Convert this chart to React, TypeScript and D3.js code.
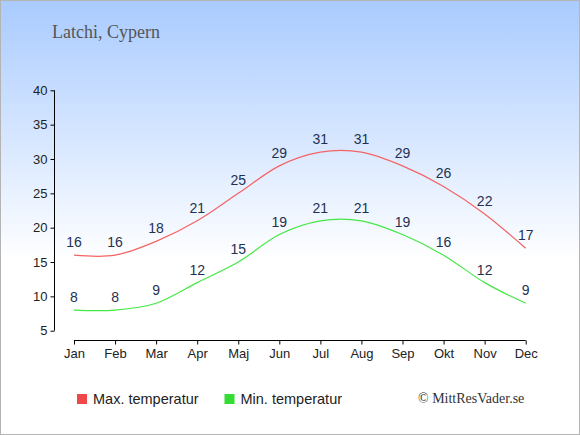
import { useEffect, useRef } from 'react'
import * as d3 from 'd3'

const months = ['Jan', 'Feb', 'Mar', 'Apr', 'Maj', 'Jun', 'Jul', 'Aug', 'Sep', 'Okt', 'Nov', 'Dec']
const maxTemps = [16, 16, 18, 21, 25, 29, 31, 31, 29, 26, 22, 17]
const minTemps = [8, 8, 9, 12, 15, 19, 21, 21, 19, 16, 12, 9]
const yTicks = [5, 10, 15, 20, 25, 30, 35, 40]

const width = 580
const height = 435

export default function App() {
  const svgRef = useRef<SVGSVGElement>(null)

  useEffect(() => {
    if (!svgRef.current) return
    const svg = d3.select(svgRef.current)
    svg.selectAll('*').remove()

    const defs = svg.append('defs')
    const grad = defs.append('linearGradient')
      .attr('id', 'bg')
      .attr('x1', 0).attr('y1', 0).attr('x2', 0).attr('y2', 1)
    grad.append('stop').attr('offset', '0%').attr('stop-color', '#a9cbff')
    grad.append('stop').attr('offset', '60%').attr('stop-color', '#ffffff')
    grad.append('stop').attr('offset', '100%').attr('stop-color', '#ffffff')

    svg.append('rect')
      .attr('x', 0.5).attr('y', 0.5)
      .attr('width', width - 1).attr('height', height - 1)
      .attr('fill', 'url(#bg)')
      .attr('stroke', '#b4b4b4')

    svg.append('text')
      .attr('x', 52)
      .attr('y', 38)
      .style('font-family', '"Liberation Serif", serif')
      .style('font-size', '18px')
      .style('fill', '#555')
      .text('Latchi, Cypern')

    const x = d3.scalePoint<string>()
      .domain(months)
      .range([74, 525.7])

    const y = d3.scaleLinear()
      .domain([5, 40])
      .range([330.7, 90.3])

    const axisX = 54.5
    const baseY = 340.5

    // y axis
    const yAxis = svg.append('g')
      .attr('transform', `translate(${axisX},0)`)
      .call(d3.axisLeft(y).tickValues(yTicks).tickSize(4).tickPadding(3).tickFormat(d3.format('d')))
    yAxis.select('.domain').attr('d', `M0,${y(40)}V${y(5)}`).attr('stroke', '#000')
    yAxis.selectAll('text')
      .style('font-family', 'Arial, "Liberation Sans", sans-serif')
      .style('font-size', '13px')
      .style('fill', '#222')

    // x axis
    const xAxis = svg.append('g')
      .attr('transform', `translate(0,${baseY})`)
      .call(d3.axisBottom(x).tickSize(4).tickPadding(4))
    xAxis.select('.domain').attr('d', `M${x('Jan')},0H${x('Dec')}`).attr('stroke', '#000')
    xAxis.selectAll('text')
      .style('font-family', 'Arial, "Liberation Sans", sans-serif')
      .style('font-size', '13px')
      .style('fill', '#222')

    const line = d3.line<number>()
      .x((_, i) => x(months[i])!)
      .y(d => y(d))
      .curve(d3.curveCardinal.tension(0))

    const series = [
      { values: maxTemps, color: '#f46464' },
      { values: minTemps, color: '#44e844' },
    ]

    series.forEach(s => {
      svg.append('path')
        .attr('d', line(s.values)!)
        .attr('fill', 'none')
        .attr('stroke', s.color)
        .attr('stroke-width', 1.2)

      svg.append('g')
        .selectAll('text')
        .data(s.values)
        .enter().append('text')
        .attr('x', (_, i) => x(months[i])!)
        .attr('y', d => y(d) - 8)
        .attr('text-anchor', 'middle')
        .style('font-family', 'Arial, "Liberation Sans", sans-serif')
        .style('font-size', '14px')
        .style('fill', '#1f3152')
        .text(d => d)
    })

    const legend = [
      { label: 'Max. temperatur', color: '#f04848', x: 77 },
      { label: 'Min. temperatur', color: '#33dd33', x: 224.5 },
    ]
    legend.forEach(l => {
      svg.append('rect')
        .attr('x', l.x).attr('y', 394)
        .attr('width', 10).attr('height', 10)
        .attr('fill', l.color)
      svg.append('text')
        .attr('x', l.x + 16)
        .attr('y', 403.5)
        .style('font-family', 'Arial, "Liberation Sans", sans-serif')
        .style('font-size', '14.5px')
        .style('fill', '#222')
        .text(l.label)
    })

    svg.append('text')
      .attr('x', 418)
      .attr('y', 402.5)
      .style('font-family', '"Liberation Serif", serif')
      .style('font-size', '14px')
      .style('fill', '#333')
      .text('© MittResVader.se')
  }, [])

  return (
    <svg
      ref={svgRef}
      width={width}
      height={height}
      style={{ position: 'absolute', left: 0, top: 0 }}
    />
  )
}
